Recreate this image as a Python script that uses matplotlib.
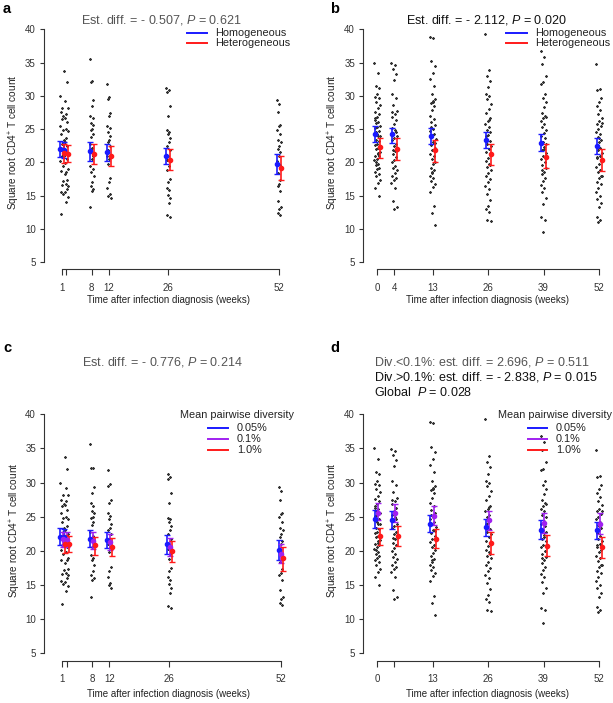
import numpy as np
import matplotlib
matplotlib.use("Agg")
import matplotlib.pyplot as plt
from matplotlib.lines import Line2D

plt.rcParams["font.family"] = ["Liberation Sans", "DejaVu Sans"]
plt.rcParams["mathtext.fontset"] = "custom"
plt.rcParams["mathtext.rm"] = "Liberation Sans"
plt.rcParams["mathtext.it"] = "Liberation Sans:italic"

# ---- data: panels a / c (weeks 1, 2, 8, 12, 26, 52) ----
weeks_ac = [1, 2, 8, 12, 26, 52]
ac_w1 = [30.0, 28.2, 27.5, 26.9, 26.5, 25.5, 24.8, 24.3, 23.4, 22.8, 22.1, 21.5, 20.9,
         20.2, 19.5, 18.7, 17.2, 16.6, 15.6, 15.2, 12.2]
ac_w2 = [33.8, 32.0, 29.2, 28.2, 27.3, 26.7, 26.0, 25.0, 24.7, 23.6, 23.0, 22.4, 21.6,
         21.0, 20.5, 19.9, 19.0, 18.6, 18.2, 17.4, 16.8, 16.5, 16.0, 15.5, 14.8, 14.1]
ac_w8 = [35.6, 32.2, 32.1, 29.3, 28.5, 27.0, 26.6, 25.9, 25.6, 25.0, 24.8, 24.3, 23.8,
         22.8, 22.2, 21.6, 21.0, 20.5, 19.4, 19.0, 18.6, 18.0, 17.1, 16.5, 16.0, 15.7, 13.3]
ac_w12 = [31.8, 29.8, 29.5, 27.4, 27.0, 25.5, 25.1, 24.6, 24.0, 23.4, 23.0, 22.4, 21.8,
          21.0, 20.5, 19.8, 17.6, 17.0, 16.2, 15.3, 15.0, 14.6]
ac_w26 = [31.2, 30.8, 30.5, 28.4, 27.0, 24.8, 24.6, 24.2, 23.6, 23.0, 22.5, 21.8, 21.0,
          20.3, 19.5, 18.8, 17.5, 17.0, 16.2, 15.8, 15.1, 14.6, 13.9, 12.0, 11.7]
ac_w52 = [29.4, 28.7, 27.5, 25.6, 25.4, 24.9, 24.2, 23.4, 23.0, 22.5, 22.0, 21.5, 21.0,
          20.2, 19.6, 18.4, 17.4, 16.8, 16.5, 15.7, 14.2, 13.3, 13.0, 12.4, 12.1]
ac_points = [ac_w1, ac_w2, ac_w8, ac_w12, ac_w26, ac_w52]

# ---- data: panels b / d (weeks 0, 4, 13, 26, 39, 52) ----
weeks_bd = [0, 4, 13, 26, 39, 52]
bd_w0 = [35.0, 33.5, 31.5, 31.2, 30.3, 29.8, 29.6, 29.0, 28.6, 28.1, 27.6, 27.3, 26.8,
         26.6, 26.1, 25.9, 25.5, 25.3, 25.1, 24.7, 24.5, 24.0, 23.9, 23.4, 23.2, 22.8,
         22.6, 22.2, 22.0, 21.6, 21.4, 21.0, 20.9, 20.5, 20.3, 19.8, 19.6, 19.2, 19.0,
         18.6, 18.3, 17.9, 17.3, 16.9, 16.2, 15.0, 24.2, 26.3, 21.2, 20.1]
bd_w4 = [34.9, 34.6, 34.0, 33.3, 32.4, 30.2, 29.6, 28.6, 27.7, 27.3, 26.8, 26.3, 25.8,
         25.2, 24.9, 24.4, 24.0, 23.7, 23.3, 22.8, 22.4, 22.0, 21.7, 21.2, 20.8, 20.4,
         20.0, 19.5, 19.1, 18.8, 18.4, 18.0, 17.6, 17.4, 16.9, 16.2, 14.2, 13.2, 13.0,
         27.5, 24.6, 21.9]
bd_w13 = [38.9, 38.7, 35.2, 34.5, 33.5, 32.5, 31.5, 30.3, 29.5, 29.2, 28.9, 28.4, 27.8,
          27.0, 26.5, 26.0, 25.6, 25.0, 24.7, 24.3, 23.9, 23.5, 23.1, 22.6, 22.2, 21.8,
          21.3, 20.9, 20.5, 20.1, 19.7, 19.2, 18.8, 18.4, 18.0, 17.6, 17.2, 16.8, 16.3,
          15.6, 13.4, 12.3, 10.6, 29.0, 25.3, 22.9, 18.6, 24.0]
bd_w26 = [39.3, 33.9, 33.0, 32.3, 31.3, 30.2, 29.9, 29.5, 28.8, 28.0, 27.4, 26.6, 26.2,
          25.8, 25.3, 24.9, 24.5, 24.1, 23.6, 23.2, 22.8, 22.4, 22.0, 21.5, 21.1, 20.7,
          20.2, 19.8, 19.3, 18.9, 18.4, 18.0, 17.5, 17.0, 16.5, 16.0, 15.3, 14.4, 13.5,
          12.9, 12.5, 11.3, 11.2, 26.4, 23.9, 19.6]
bd_w39 = [36.8, 35.9, 34.8, 33.0, 32.0, 31.8, 30.2, 29.6, 29.0, 28.3, 27.4, 27.0, 26.6,
          26.2, 25.8, 25.3, 24.9, 24.4, 24.0, 23.6, 23.1, 22.7, 22.3, 21.8, 21.4, 20.9,
          20.5, 20.0, 19.6, 19.1, 18.6, 18.2, 17.7, 17.2, 16.6, 16.2, 15.5, 14.6, 13.8,
          11.7, 11.3, 9.5, 26.8, 22.0, 18.9]
bd_w52 = [34.8, 31.0, 30.8, 29.6, 29.1, 28.4, 27.9, 27.3, 26.7, 26.2, 25.8, 25.4, 25.0,
          24.6, 24.2, 23.8, 23.4, 23.0, 22.6, 22.2, 21.8, 21.4, 21.0, 20.6, 20.2, 19.8,
          19.3, 18.9, 18.5, 18.0, 17.6, 17.1, 16.7, 16.2, 15.6, 15.0, 14.5, 13.9, 13.3,
          11.8, 11.3, 11.0, 25.9, 23.6, 20.8, 17.9]
bd_points = [bd_w0, bd_w4, bd_w13, bd_w26, bd_w39, bd_w52]

# ---- model means and 95% CI ----
a_homo = [22.0, 21.8, 21.7, 21.5, 21.0, 19.7]
a_homo_lo = [20.8, 20.6, 20.2, 20.2, 19.7, 18.2]
a_homo_hi = [23.2, 23.1, 23.1, 22.7, 22.2, 21.2]
a_het = [21.4, 21.3, 21.2, 21.0, 20.4, 19.2]
a_het_lo = [19.9, 20.0, 19.7, 19.5, 18.9, 17.4]
a_het_hi = [22.8, 22.6, 22.7, 22.5, 22.0, 21.0]

b_homo = [24.3, 24.2, 23.9, 23.3, 22.9, 22.5]
b_homo_lo = [23.1, 22.9, 22.7, 22.1, 21.7, 21.2]
b_homo_hi = [25.5, 25.2, 25.1, 24.6, 24.3, 23.7]
b_het = [22.3, 22.0, 21.8, 21.2, 20.8, 20.3]
b_het_lo = [20.7, 20.4, 20.0, 19.6, 19.1, 18.7]
b_het_hi = [23.7, 23.6, 23.4, 22.8, 22.7, 22.0]

c_d005 = [22.1, 22.0, 21.8, 21.6, 21.0, 20.1]
c_d005_lo = [20.9, 20.8, 20.6, 20.4, 19.6, 18.7]
c_d005_hi = [23.3, 23.2, 23.1, 22.8, 22.3, 21.6]
c_d01 = [21.7, 21.6, 21.5, 21.3, 20.6, 19.6]
c_d01_lo = [20.6, 20.5, 20.3, 20.1, 19.3, 18.2]
c_d01_hi = [22.8, 22.7, 22.7, 22.5, 21.9, 21.0]
c_d1 = [21.0, 21.0, 20.8, 20.5, 20.0, 18.9]
c_d1_lo = [19.7, 19.8, 19.4, 19.2, 18.4, 17.1]
c_d1_hi = [22.3, 22.2, 22.1, 21.9, 21.5, 20.6]

d_d005 = [24.6, 24.5, 24.0, 23.5, 23.1, 23.0]
d_d005_lo = [23.3, 23.2, 22.8, 22.2, 21.8, 21.7]
d_d005_hi = [26.0, 25.8, 25.2, 24.7, 24.5, 24.3]
d_d01 = [25.6, 25.5, 25.1, 24.5, 24.1, 24.0]
d_d01_lo = [24.5, 24.3, 23.8, 23.1, 22.6, 22.5]
d_d01_hi = [27.0, 26.8, 26.5, 25.9, 25.6, 25.5]
d_d1 = [22.2, 22.2, 21.8, 21.2, 20.7, 20.5]
d_d1_lo = [20.9, 20.7, 20.4, 19.6, 19.2, 19.0]
d_d1_hi = [23.4, 23.6, 23.2, 22.8, 22.3, 22.1]

BLUE = "#1a1aff"
RED = "#ff1a1a"
PURPLE = "#a020f0"
GREY = "#555555"

W, H = 613, 703
fig = plt.figure(figsize=(W / 100, H / 100), dpi=100)


def px_ax(left, top, right, bottom):
    return fig.add_axes([left / W, 1 - bottom / H, (right - left) / W, (bottom - top) / H])


def ftext(x, y, s, **kw):
    fig.text(x / W, 1 - y / H, s, **kw)


def fline(x0, x1, y, color):
    fig.add_artist(Line2D([x0 / W, x1 / W], [1 - y / H, 1 - y / H],
                          transform=fig.transFigure, color=color, lw=1.4))


def setup(ax, xlim, xticks, xlabels, xspan, top_row):
    ax.set_xlim(*xlim)
    ax.set_ylim(3.95, 41.4)
    for s in ["top", "right"]:
        ax.spines[s].set_visible(False)
    ax.spines["left"].set_bounds(5, 40)
    ax.spines["bottom"].set_bounds(*xspan)
    for s in ["left", "bottom"]:
        ax.spines[s].set_color("#333333")
        ax.spines[s].set_linewidth(0.8)
    ax.set_yticks(range(5, 41, 5))
    ax.set_xticks(xticks)
    ax.set_xticklabels(xlabels)
    ax.tick_params(axis="y", length=3, pad=3, labelsize=7, colors="#333333")
    ax.tick_params(axis="x", length=4, pad=6, labelsize=7, colors="#333333")
    ax.set_ylabel("Square root CD4$^{+}$ T cell count", fontsize=7.2, color="#222222")
    ax.yaxis.set_label_coords(-0.088, 0.51)
    ax.set_xlabel("Time after infection diagnosis (weeks)", fontsize=7, color="#222222")
    ax.xaxis.set_label_coords(0.5, -0.104 if top_row else -0.112)


def scatter(ax, weeks, points, width):
    for wk, vals in zip(weeks, points):
        n = len(vals)
        jit = ((np.arange(n) * 0.618) % 1 - 0.5) * width
        ax.plot(wk + jit, vals, linestyle="none", marker=(6, 2, 0), ms=1.7,
                mew=0.5, color="#333333", zorder=2)


def means(ax, weeks, m, lo, hi, off, color):
    x = np.array(weeks) + off
    m = np.array(m)
    yerr = [m - np.array(lo), np.array(hi) - m]
    ax.errorbar(x, m, yerr=yerr, fmt="o", ms=3, color=color, ecolor=color,
                elinewidth=1.2, capsize=2.2, capthick=1.0, zorder=4)


# panel a
ax = px_ax(44, 20, 292.6, 269)
setup(ax, (-3.23, 55.2), weeks_ac, ["1", "", "8", "12", "26", "52"], (1, 52), True)
scatter(ax, weeks_ac, ac_points, 0.9)
means(ax, weeks_ac, a_homo, a_homo_lo, a_homo_hi, -0.5, BLUE)
means(ax, weeks_ac, a_het, a_het_lo, a_het_hi, 0.5, RED)

# panel b
ax = px_ax(363.3, 20, 612, 269)
setup(ax, (-3.28, 55.05), weeks_bd, [str(w) for w in weeks_bd], (0, 52), True)
scatter(ax, weeks_bd, bd_points, 1.4)
means(ax, weeks_bd, b_homo, b_homo_lo, b_homo_hi, -0.5, BLUE)
means(ax, weeks_bd, b_het, b_het_lo, b_het_hi, 0.6, RED)

# panel c
ax = px_ax(44.3, 404.7, 292, 660.5)
setup(ax, (-3.2, 54.6), weeks_ac, ["1", "", "8", "12", "26", "52"], (1, 52), False)
scatter(ax, weeks_ac, ac_points, 0.9)
means(ax, weeks_ac, c_d005, c_d005_lo, c_d005_hi, -0.5, BLUE)
means(ax, weeks_ac, c_d01, c_d01_lo, c_d01_hi, 0.1, PURPLE)
means(ax, weeks_ac, c_d1, c_d1_lo, c_d1_hi, 0.6, RED)

# panel d
ax = px_ax(363.3, 404.7, 612, 660.5)
setup(ax, (-3.28, 55.05), weeks_bd, ["0", "", "13", "26", "39", "52"], (0, 52), False)
scatter(ax, weeks_bd, bd_points, 1.4)
means(ax, weeks_bd, d_d005, d_d005_lo, d_d005_hi, -0.55, BLUE)
means(ax, weeks_bd, d_d01, d_d01_lo, d_d01_hi, 0.2, PURPLE)
means(ax, weeks_bd, d_d1, d_d1_lo, d_d1_hi, 0.75, RED)

# panel letters
for lab, x, y in [("a", 3, 9), ("b", 330, 9), ("c", 3, 348), ("d", 330, 348)]:
    ftext(x, y, lab, fontsize=10.5, fontweight="bold", ha="left", va="center")

# titles
ftext(161, 20, r"Est. diff. = - 0.507, $\it{P}$ = 0.621", fontsize=9, color=GREY,
      ha="center", va="center")
ftext(486, 20, r"Est. diff. = - 2.112, $\it{P}$ = 0.020", fontsize=9, color="#111111",
      ha="center", va="center")
ftext(162, 362, r"Est. diff. = - 0.776, $\it{P}$ = 0.214", fontsize=9, color=GREY,
      ha="center", va="center")
ftext(374, 362, r"Div.<0.1%: est. diff. = 2.696, $\it{P}$ = 0.511", fontsize=9,
      color=GREY, ha="left", va="center")
ftext(374, 377, r"Div.>0.1%: est. diff. = - 2.838, $\it{P}$ = 0.015", fontsize=9,
      color="#111111", ha="left", va="center")
ftext(374, 392, r"Global  $\it{P}$ = 0.028", fontsize=9, color="#111111",
      ha="left", va="center")

# legends
for x0, x1, xt in [(187, 207, 215), (506, 527, 535)]:
    for y, col, lab in [(33, BLUE, "Homogeneous"), (43, RED, "Heterogeneous")]:
        fline(x0, x1, y, col)
        ftext(xt, y, lab, fontsize=7.8, color="#222222", ha="left", va="center")

for xtit, x0, x1, xt in [(180, 208, 228, 237), (498, 528, 547, 556)]:
    ftext(xtit, 415, "Mean pairwise diversity", fontsize=7.8, color="#222222",
          ha="left", va="center")
    for y, col, lab in [(428, BLUE, "0.05%"), (439, PURPLE, "0.1%"), (450, RED, "1.0%")]:
        fline(x0, x1, y, col)
        ftext(xt, y, lab, fontsize=7.8, color="#222222", ha="left", va="center")

fig.savefig("out.png", dpi=100)
